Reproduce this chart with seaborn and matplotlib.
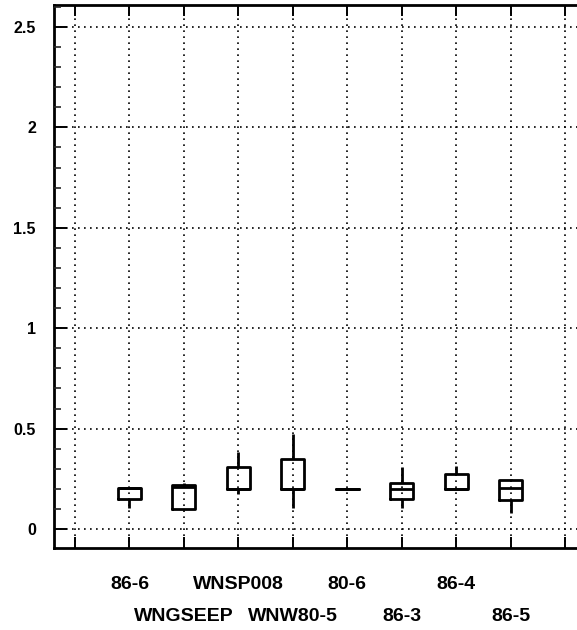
import matplotlib
matplotlib.use("Agg")
import matplotlib.pyplot as plt
from matplotlib.ticker import MultipleLocator
import numpy as np
import pandas as pd
import seaborn as sns

# Sample sites, in plotting order
sites = ["86-6", "WNGSEEP", "WNSP008", "WNW80-5", "80-6", "86-3", "86-4", "86-5"]

# Five-number summaries per site: min, lower quartile, median, upper quartile, max
site_86_6   = [0.105, 0.150, 0.205, 0.205, 0.205]
site_wngsep = [0.100, 0.100, 0.210, 0.220, 0.230]
site_wnsp08 = [0.175, 0.200, 0.200, 0.310, 0.385]
site_wnw805 = [0.105, 0.200, 0.200, 0.350, 0.475]
site_80_6   = [0.200, 0.200, 0.200, 0.200, 0.200]
site_86_3   = [0.105, 0.150, 0.200, 0.230, 0.310]
site_86_4   = [0.200, 0.200, 0.200, 0.275, 0.315]
site_86_5   = [0.080, 0.145, 0.205, 0.245, 0.250]

summaries = [site_86_6, site_wngsep, site_wnsp08, site_wnw805,
             site_80_6, site_86_3, site_86_4, site_86_5]

y_ticks = [0, 0.5, 1, 1.5, 2, 2.5]
y_tick_labels = ["0", "0.5", "1", "1.5", "2", "2.5"]

df = pd.DataFrame({
    "site": np.repeat(sites, 5),
    "value": np.concatenate(summaries),
})

sns.set_style("ticks")
plt.rcParams["font.family"] = ["Liberation Sans", "DejaVu Sans"]

fig = plt.figure(figsize=(5.77, 6.30), dpi=100)
ax = fig.add_axes([54 / 577, 1 - 548 / 630, 1 - 54 / 577, (548 - 5) / 630])

sns.boxplot(
    data=df, x="site", y="value", order=sites, ax=ax,
    whis=(0, 100), width=0.42, fill=False, color="black",
    linewidth=2.0, showcaps=False, showfliers=False,
    medianprops=dict(color="black", linewidth=2.0),
)

ax.set_xlim(-1.386, 8.22)
ax.set_ylim(-0.0946, 2.6096)

# Site labels staggered over two rows: upper row on major ticks, lower row on minor ticks
upper_pos = [-1, 0, 2, 4, 6, 8]
upper_lab = ["", sites[0], sites[2], sites[4], sites[6], ""]
lower_pos = [1, 3, 5, 7]
lower_lab = [sites[1], sites[3], sites[5], sites[7]]

ax.set_xticks(upper_pos)
ax.set_xticklabels(upper_lab, fontsize=14, fontweight="bold")
ax.set_xticks(lower_pos, minor=True)
ax.set_xticklabels(lower_lab, minor=True, fontsize=14, fontweight="bold")

ax.set_yticks(y_ticks)
ax.set_yticklabels(y_tick_labels, fontsize=11.5, fontweight="bold")
ax.yaxis.set_minor_locator(MultipleLocator(0.1))

ax.set_xlabel("")
ax.set_ylabel("")

grid_style = dict(color="black", linestyle=(0, (1, 2.6)), linewidth=1.2)
ax.xaxis.grid(True, which="both", **grid_style)
ax.yaxis.grid(True, which="major", **grid_style)
ax.set_axisbelow(False)

ax.tick_params(axis="x", which="major", direction="in", length=8, width=1.4,
               top=True, bottom=True, pad=20, colors="black")
ax.tick_params(axis="x", which="minor", direction="in", length=8, width=1.4,
               top=True, bottom=True, pad=43, colors="black")
ax.tick_params(axis="y", which="major", direction="in", length=9, width=1.4,
               left=True, right=False, pad=13, colors="black")
ax.tick_params(axis="y", which="minor", direction="in", length=5, width=1.2,
               left=True, right=False)

for side in ["left", "bottom", "top"]:
    ax.spines[side].set_linewidth(2.0)
    ax.spines[side].set_color("black")
ax.spines["right"].set_visible(False)

fig.savefig("out.png", dpi=100)
